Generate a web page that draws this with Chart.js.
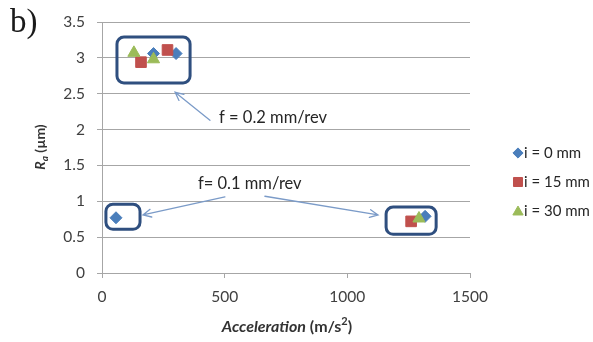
<!DOCTYPE html>
<html>
<head>
<meta charset="utf-8">
<script src="https://cdn.jsdelivr.net/npm/chart.js@4/dist/chart.umd.min.js"></script>
<style>
  html, body { margin: 0; padding: 0; background: #fff; }
  #wrap { position: relative; width: 593px; height: 342px; }
</style>
</head>
<body>
<div id="wrap"><canvas id="c"></canvas></div>
<script>
// Surface roughness Ra against acceleration for three tool-offset settings
const seriesNames = ['i = 0 mm', 'i = 15 mm', 'i = 30 mm'];
const accel0  = [210, 302, 57, 1317];
const ra0     = [3.06, 3.06, 0.77, 0.79];
const accel15 = [159, 267, 1260];
const ra15    = [2.94, 3.11, 0.72];
const accel30 = [130, 210, 1292];
const ra30    = [3.07, 2.98, 0.76];

const xTicks = [0, 500, 1000, 1500];
const yTicks = [0, 0.5, 1, 1.5, 2, 2.5, 3, 3.5];

// Call-outs grouping the runs by feed rate (axis units)
const groupBoxes = [
  { x0: 61,   x1: 359,  y0: 2.65, y1: 3.29 },
  { x0: 16,   x1: 155,  y0: 0.61, y1: 0.96 },
  { x0: 1158, x1: 1362, y0: 0.54, y1: 0.92 }
];
const feedLabels = [
  { text: 'f = 0.2 mm/rev', x: 477, y: 2.16 },
  { text: 'f= 0.1 mm/rev',  x: 391, y: 1.24 }
];
const arrows = [
  { from: [440, 2.13], to: [298, 2.52] },
  { from: [501, 1.06], to: [167, 0.81] },
  { from: [664, 1.07], to: [1125, 0.81] }
];

const colors = ['#4a7ebb', '#c0504d', '#9bbb59'];
const styles = ['rectRot', 'rect', 'triangle'];
const radii  = [6, 7.5, 7];
const FONT = 'Lato, "Liberation Sans", sans-serif';

function toPoints(xs, ys) { return xs.map((v, i) => ({ x: v, y: ys[i] })); }

function roundRectPath(ctx, x, y, w, h, r) {
  ctx.beginPath();
  ctx.moveTo(x + r, y);
  ctx.arcTo(x + w, y, x + w, y + h, r);
  ctx.arcTo(x + w, y + h, x, y + h, r);
  ctx.arcTo(x, y + h, x, y, r);
  ctx.arcTo(x, y, x + w, y, r);
  ctx.closePath();
}

function drawMarker(ctx, style, r, cx, cy, color) {
  ctx.save();
  ctx.fillStyle = color;
  ctx.strokeStyle = color;
  ctx.lineWidth = 1;
  if (Chart.helpers && Chart.helpers.drawPoint) {
    Chart.helpers.drawPoint(ctx, { pointStyle: style, radius: r, borderWidth: 1, rotation: 0 }, cx, cy);
  }
  ctx.restore();
}

// Draw a run of differently styled text pieces, centred on (cx, cy)
function drawRichText(ctx, parts, cx, cy, angle) {
  ctx.save();
  ctx.translate(cx, cy);
  ctx.rotate(angle);
  let total = 0;
  parts.forEach(p => { ctx.font = p.font; p.w = ctx.measureText(p.t).width; total += p.w; });
  let xx = -total / 2;
  ctx.textBaseline = 'alphabetic';
  ctx.textAlign = 'left';
  parts.forEach(p => {
    ctx.font = p.font;
    ctx.fillText(p.t, xx, 5 + (p.dy || 0));
    xx += p.w;
  });
  ctx.restore();
}

const annotations = {
  id: 'annotations',
  afterDatasetsDraw(chart) {
    const { ctx } = chart;
    const x = chart.scales.x, y = chart.scales.y;
    ctx.save();
    // group boxes
    ctx.strokeStyle = '#2f4f7f';
    ctx.lineWidth = 3;
    groupBoxes.forEach(b => {
      const l = x.getPixelForValue(b.x0), r = x.getPixelForValue(b.x1);
      const t = y.getPixelForValue(b.y1), bt = y.getPixelForValue(b.y0);
      roundRectPath(ctx, l, t, r - l, bt - t, 7);
      ctx.stroke();
    });
    // arrows
    ctx.strokeStyle = '#7b9bc8';
    ctx.lineWidth = 1.3;
    ctx.lineCap = 'round';
    arrows.forEach(a => {
      const x1 = x.getPixelForValue(a.from[0]), y1 = y.getPixelForValue(a.from[1]);
      const x2 = x.getPixelForValue(a.to[0]),   y2 = y.getPixelForValue(a.to[1]);
      const ang = Math.atan2(y2 - y1, x2 - x1);
      const len = 9, spread = 0.45;
      ctx.beginPath();
      ctx.moveTo(x1, y1);
      ctx.lineTo(x2, y2);
      ctx.moveTo(x2 - len * Math.cos(ang - spread), y2 - len * Math.sin(ang - spread));
      ctx.lineTo(x2, y2);
      ctx.lineTo(x2 - len * Math.cos(ang + spread), y2 - len * Math.sin(ang + spread));
      ctx.stroke();
    });
    // feed-rate labels
    ctx.fillStyle = '#262626';
    ctx.font = '16.5px ' + FONT;
    ctx.textAlign = 'left';
    ctx.textBaseline = 'middle';
    feedLabels.forEach(f => {
      ctx.fillText(f.text, x.getPixelForValue(f.x), y.getPixelForValue(f.y));
    });
    ctx.restore();
  },
  afterDraw(chart) {
    const { ctx } = chart;
    ctx.save();
    // legend
    const lx = 518, ly = [153, 182, 211];
    ctx.font = '15px ' + FONT;
    ctx.textAlign = 'left';
    ctx.textBaseline = 'middle';
    seriesNames.forEach((name, i) => {
      drawMarker(ctx, styles[i], radii[i] * 0.85, lx, ly[i] + (i === 2 ? 1 : 0), colors[i]);
      ctx.fillStyle = '#262626';
      ctx.fillText(name, lx + 6, ly[i]);
    });
    // axis titles
    ctx.fillStyle = '#333';
    drawRichText(ctx, [
      { t: 'R', font: 'italic bold 14px ' + FONT },
      { t: 'a', font: 'italic bold 10px ' + FONT, dy: 3 },
      { t: ' (\u00b5m)', font: 'bold 14px ' + FONT }
    ], 40, 147, -Math.PI / 2);
    drawRichText(ctx, [
      { t: 'Acceleration', font: 'italic bold 16px ' + FONT },
      { t: ' (m/s', font: 'bold 16px ' + FONT },
      { t: '2', font: 'bold 11px ' + FONT, dy: -7 },
      { t: ')', font: 'bold 16px ' + FONT }
    ], 287, 327, 0);
    // panel letter
    ctx.fillStyle = '#1a1a1a';
    ctx.font = '33px "Liberation Serif", serif';
    ctx.textAlign = 'left';
    ctx.textBaseline = 'alphabetic';
    ctx.fillText('b)', 10, 32);
    ctx.restore();
  }
};

const seriesX = [accel0, accel15, accel30];
const seriesY = [ra0, ra15, ra30];

new Chart(document.getElementById('c'), {
  type: 'scatter',
  data: {
    datasets: seriesNames.map((name, i) => ({
      label: name,
      data: toPoints(seriesX[i], seriesY[i]),
      pointStyle: styles[i],
      pointRadius: radii[i],
      pointHoverRadius: radii[i],
      backgroundColor: colors[i],
      borderColor: colors[i],
      borderWidth: 1,
      order: 2 - i
    }))
  },
  options: {
    responsive: true,
    maintainAspectRatio: false,
    animation: false,
    events: [],
    layout: { padding: { top: 22, right: 123, left: 0, bottom: 0 } },
    plugins: { legend: { display: false }, tooltip: { enabled: false } },
    scales: {
      x: {
        type: 'linear',
        min: 0, max: 1500,
        afterBuildTicks: s => { s.ticks = xTicks.map(v => ({ value: v })); },
        afterFit: s => { s.height = 69; },
        grid: { drawOnChartArea: false, drawTicks: true, tickLength: 5, color: '#a6a6a6' },
        border: { color: '#a6a6a6' },
        ticks: { color: '#404040', font: { family: FONT, size: 15.5 }, padding: 10, maxRotation: 0,
                 callback: v => String(v) }
      },
      y: {
        type: 'linear',
        min: 0, max: 3.5,
        afterBuildTicks: s => { s.ticks = yTicks.map(v => ({ value: v })); },
        afterFit: s => { s.width = 102; },
        grid: { drawTicks: true, tickLength: 5, color: '#a6a6a6' },
        border: { color: '#a6a6a6' },
        ticks: { color: '#404040', font: { family: FONT, size: 15.5 }, padding: 12,
                 callback: v => String(v) }
      }
    }
  },
  plugins: [annotations]
});
</script>
</body>
</html>
